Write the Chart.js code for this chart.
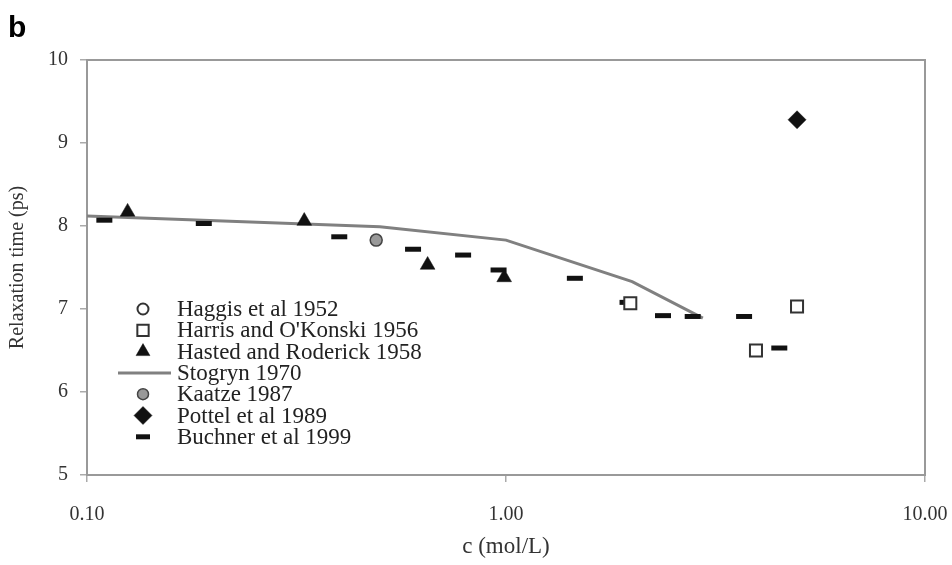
<!DOCTYPE html>
<html>
<head>
<meta charset="utf-8">
<script src="https://cdn.jsdelivr.net/npm/chart.js@4/dist/chart.umd.min.js"></script>
<style>
  html, body { margin: 0; padding: 0; background: #fff; }
</style>
</head>
<body>
<canvas id="myChart" width="952" height="565"></canvas>
<script>
// concentration (mol/L) and relaxation time (ps)
var haggisC = [];
var haggisTau = [];
var harrisC = [1.98, 3.95, 4.95];
var harrisTau = [7.07, 6.50, 7.03];
var hastedC = [0.125, 0.33, 0.65, 0.99];
var hastedTau = [8.17, 8.06, 7.53, 7.38];
var stogrynC = [0.1, 0.5, 1.0, 2.0, 2.95];
var stogrynTau = [8.12, 7.99, 7.83, 7.33, 6.89];
var kaatzeC = [0.49];
var kaatzeTau = [7.83];
var pottelC = [4.95];
var pottelTau = [9.28];
var buchnerC = [0.11, 0.19, 0.40, 0.60, 0.79, 0.96, 1.46, 1.95, 2.37, 2.79, 3.70, 4.49];
var buchnerTau = [8.07, 8.03, 7.87, 7.72, 7.65, 7.47, 7.37, 7.08, 6.92, 6.91, 6.91, 6.53];

var xTicks = [0.1, 1, 10];
var serif = "'Liberation Serif', 'Times New Roman', serif";

function pts(xs, ys) {
    return xs.map(function (x, i) { return {x: x, y: ys[i]}; });
}

// frame round the plot area plus the "b" panel letter
var framePlugin = {
    id: 'frame',
    beforeDatasetsDraw: function (chart) {
        var a = chart.chartArea, ctx = chart.ctx;
        ctx.save();
        ctx.strokeStyle = '#999';
        ctx.lineWidth = 2;
        ctx.strokeRect(a.left, a.top, a.right - a.left, a.bottom - a.top);
        ctx.restore();
    },
    afterDraw: function (chart) {
        var ctx = chart.ctx;
        ctx.save();
        ctx.fillStyle = '#000';
        ctx.font = "bold 30px 'Liberation Sans', Arial, sans-serif";
        ctx.textBaseline = 'alphabetic';
        ctx.fillText('b', 8, 37);
        ctx.restore();
    }
};

// legend inside the plot, lower left
var legendPlugin = {
    id: 'insideLegend',
    afterDatasetsDraw: function (chart) {
        var ctx = chart.ctx;
        var a = chart.chartArea;
        var mx = a.left + 56, tx = a.left + 90, y0 = 309, step = 21.3;
        ctx.save();
        ctx.font = '23px ' + serif;
        ctx.textBaseline = 'middle';
        chart.data.datasets.forEach(function (ds, i) {
            var y = y0 + i * step;
            if (ds.showLine) {
                ctx.strokeStyle = ds.borderColor;
                ctx.lineWidth = ds.borderWidth;
                ctx.beginPath();
                ctx.moveTo(a.left + 31, y);
                ctx.lineTo(a.left + 84, y);
                ctx.stroke();
            } else {
                ctx.fillStyle = ds.pointBackgroundColor;
                ctx.strokeStyle = ds.pointBorderColor;
                ctx.lineWidth = ds.pointBorderWidth;
                Chart.helpers.drawPoint(ctx, {
                    pointStyle: ds.pointStyle,
                    radius: ds.legendRadius,
                    borderWidth: ds.pointBorderWidth,
                    rotation: 0
                }, mx, y);
            }
            ctx.fillStyle = '#222';
            ctx.fillText(ds.label, tx, y + 1);
        });
        ctx.restore();
    }
};

var ctx = document.getElementById('myChart').getContext('2d');
var chart = new Chart(ctx, {
    type: 'scatter',
    data: {
        datasets: [{
            label: 'Haggis et al 1952',
            data: pts(haggisC, haggisTau),
            pointStyle: 'circle', pointRadius: 6, legendRadius: 5.5,
            pointBackgroundColor: '#fff', pointBorderColor: '#333', pointBorderWidth: 2
        }, {
            label: "Harris and O'Konski 1956",
            data: pts(harrisC, harrisTau),
            pointStyle: 'rect', pointRadius: 8.5, legendRadius: 8,
            pointBackgroundColor: '#fff', pointBorderColor: '#333', pointBorderWidth: 2
        }, {
            label: 'Hasted and Roderick 1958',
            data: pts(hastedC, hastedTau),
            pointStyle: 'triangle', pointRadius: 8.5, legendRadius: 8,
            pointBackgroundColor: '#111', pointBorderColor: '#111', pointBorderWidth: 0.5
        }, {
            label: 'Stogryn 1970',
            data: pts(stogrynC, stogrynTau),
            showLine: true, borderColor: '#808080', borderWidth: 3,
            pointRadius: 0, tension: 0, order: 1
        }, {
            label: 'Kaatze 1987',
            data: pts(kaatzeC, kaatzeTau),
            pointStyle: 'circle', pointRadius: 6, legendRadius: 5.5,
            pointBackgroundColor: '#999', pointBorderColor: '#444', pointBorderWidth: 1.5
        }, {
            label: 'Pottel et al 1989',
            data: pts(pottelC, pottelTau),
            pointStyle: 'rectRot', pointRadius: 9, legendRadius: 9,
            pointBackgroundColor: '#111', pointBorderColor: '#111', pointBorderWidth: 0.5
        }, {
            label: 'Buchner et al 1999',
            data: pts(buchnerC, buchnerTau),
            pointStyle: 'line', pointRadius: 8, legendRadius: 7,
            pointBackgroundColor: '#111', pointBorderColor: '#111', pointBorderWidth: 5
        }]
    },
    options: {
        responsive: false,
        animation: false,
        events: [],
        layout: { padding: { left: 0, right: 27, top: 60, bottom: 0 } },
        plugins: {
            legend: { display: false },
            tooltip: { enabled: false }
        },
        scales: {
            x: {
                type: 'logarithmic',
                min: 0.1,
                max: 10,
                afterBuildTicks: function (axis) {
                    axis.ticks = xTicks.map(function (v) { return {value: v}; });
                },
                afterFit: function (scale) {
                    scale.height = 90;
                    scale.paddingLeft = 0;
                    scale.paddingRight = 0;
                },
                ticks: {
                    autoSkip: false,
                    maxRotation: 0,
                    padding: 21,
                    color: '#333',
                    font: { family: serif, size: 20 },
                    callback: function (v) { return Number(v).toFixed(2); }
                },
                grid: { drawOnChartArea: false, tickLength: 7, color: '#aaa', lineWidth: 1.5 },
                border: { color: '#999', width: 2 },
                title: {
                    display: true,
                    text: 'c (mol/L)',
                    color: '#333',
                    font: { family: serif, size: 23 },
                    padding: { top: 0, bottom: 4 }
                }
            },
            y: {
                min: 5,
                max: 10,
                afterFit: function (scale) { scale.width = 87; },
                ticks: {
                    stepSize: 1,
                    padding: 12,
                    color: '#333',
                    font: { family: serif, size: 20 }
                },
                grid: { drawOnChartArea: false, tickLength: 7, color: '#aaa', lineWidth: 1.5 },
                border: { color: '#999', width: 2 },
                title: {
                    display: true,
                    text: 'Relaxation time (ps)',
                    color: '#333',
                    font: { family: serif, size: 20 },
                    padding: { top: 6, bottom: 0 }
                }
            }
        }
    },
    plugins: [framePlugin, legendPlugin]
});
</script>
</body>
</html>
